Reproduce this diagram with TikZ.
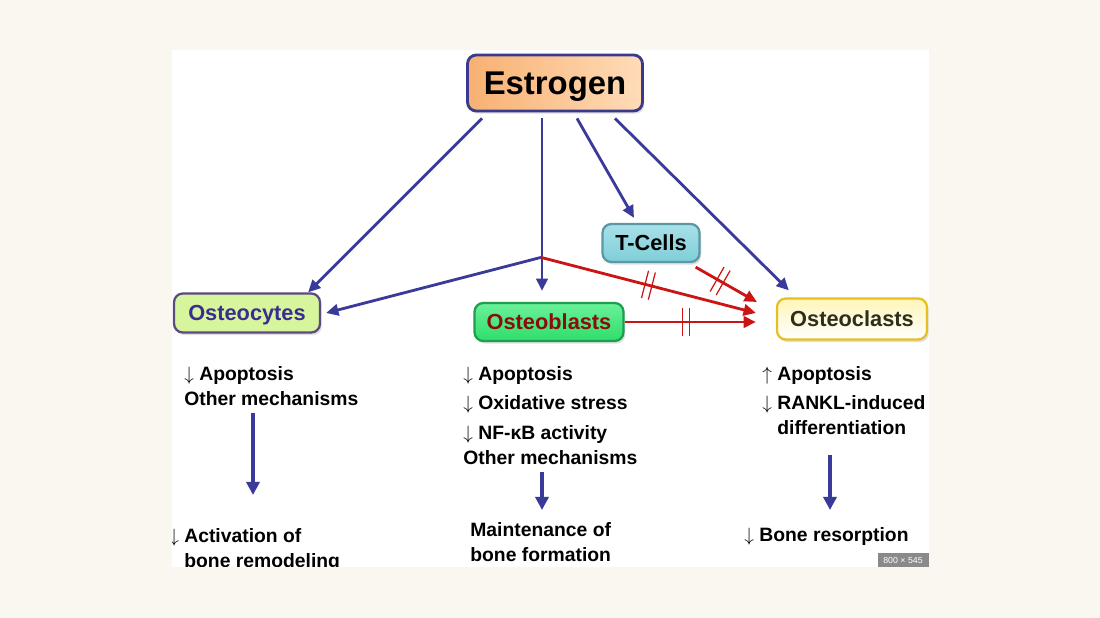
\documentclass[tikz,border=0pt]{standalone}
\usepackage{fontspec}
\setmainfont{Liberation Sans}
\usetikzlibrary{arrows.meta,calc,decorations.markings,shadows}
\definecolor{bgcream}{HTML}{FAF7F0}
\definecolor{arrowblue}{HTML}{3A3A9A}
\definecolor{arrowred}{HTML}{CC1414}
\definecolor{estroL}{HTML}{F8B072}
\definecolor{estroR}{HTML}{FFDCB8}
\definecolor{estroEdge}{HTML}{3A3A8C}
\definecolor{cyteFill}{HTML}{D6F59C}
\definecolor{cyteEdge}{HTML}{5E4A7E}
\definecolor{cyteText}{HTML}{3A2D8F}
\definecolor{blastFill}{HTML}{2EDE6A}
\definecolor{blastTop}{HTML}{6CF09A}
\definecolor{blastEdge}{HTML}{1E9E4E}
\definecolor{blastText}{HTML}{8A0D0D}
\definecolor{tcellFill}{HTML}{7FCED9}
\definecolor{tcellTop}{HTML}{A8E0E8}
\definecolor{tcellEdge}{HTML}{5A98A6}
\definecolor{clastFill}{HTML}{FFF5B8}
\definecolor{clastEdge}{HTML}{E6C022}
\definecolor{clastText}{HTML}{2E2E1E}
\definecolor{badgegray}{HTML}{8A8A8A}
\tikzset{
  cell/.style={draw, rounded corners=5pt, line width=1.3pt, inner sep=0pt, text depth=0pt,
    font=\bfseries\fontsize{12.4}{14}\selectfont,
    drop shadow={opacity=0.25, shadow xshift=1pt, shadow yshift=-1.5pt}},
  effect/.style={align=left, anchor=north west, inner sep=0pt,
    font=\bfseries\fontsize{11}{14.2}\selectfont},
  blueline/.style={draw=arrowblue, line width=1.6pt, -{Triangle[length=7pt,width=6.5pt]}},
  downline/.style={draw=arrowblue, line width=2.2pt, -{Triangle[length=7.5pt,width=7.5pt]}},
  redline/.style={draw=arrowred, line width=1.6pt, -{Triangle[length=7pt,width=6.5pt]}},
  blocked/.style={postaction={decorate, decoration={markings,
    mark=at position #1 with {\draw[-, arrowred, line width=0.7pt]
      (-2pt,-8pt) -- (-2pt,8pt) (2pt,-8pt) -- (2pt,8pt);}}}},
  blocked/.default=0.5
}
\newcommand{\dn}{$\downarrow$\ }
\newcommand{\up}{$\uparrow$\ }
\begin{document}
\begin{tikzpicture}[x=0.02cm, y=-0.02cm]
\fill[bgcream] (0,0) rectangle (1100,618);
\fill[white] (172,50) rectangle (929,567);
\begin{scope}
\clip (172,50) rectangle (929,567);
\node[cell, draw=estroEdge, line width=1.6pt, left color=estroL, right color=estroR, minimum width=3.5cm, minimum height=1.12cm, font=\bfseries\fontsize{18.7}{22}\selectfont] (estrogen) at (555,83) {Estrogen};
\node[cell, draw=cyteEdge, fill=cyteFill, text=cyteText, minimum width=2.92cm, minimum height=0.78cm] (osteocytes) at (247,313) {Osteocytes};
\node[cell, draw=blastEdge, top color=blastTop, bottom color=blastFill, text=blastText, minimum width=2.98cm, minimum height=0.76cm] (osteoblasts) at (549,322) {Osteoblasts};
\node[cell, draw=tcellEdge, top color=tcellTop, bottom color=tcellFill, minimum width=1.94cm, minimum height=0.76cm] (tcells) at (651,243) {T-Cells};
\node[cell, draw=clastEdge, top color=clastFill, bottom color=white, text=clastText, minimum width=3.0cm, minimum height=0.82cm] (osteoclasts) at (852,319) {Osteoclasts};
\coordinate (hub) at ($(estrogen.south)+(-14,145)$);
\coordinate (gate) at ($(osteoclasts.west)+(-20,0)$);
\draw[blueline] ($(estrogen.south)+(-73,6)$) -- ($(osteocytes.north east)+(-13,0)$);
\draw[blueline] ($(estrogen.south)+(-13,6)$) -- ($(osteoblasts.north)+(-7,-11)$);
\draw[blueline] ($(estrogen.south)+(22,6)$) -- ($(tcells.north)+(-17,-5)$);
\draw[blueline] ($(estrogen.south)+(60,6)$) -- ($(osteoclasts.north west)+(13,-7)$);
\draw[blueline] (hub) -- ($(osteocytes.east)+(5,0)$);
\draw[redline, blocked=0.5] (hub) -- ($(osteoclasts.west)+(-20,-6)$);
\draw[redline, blocked=0.4] ($(tcells.south east)+(-5,4)$) -- ($(osteoclasts.west)+(-19,-17)$);
\draw[redline, blocked=0.47] (osteoblasts.east) -- (gate |- osteoblasts.east);
\node[effect] (cytefx) at (184,366) {\dn Apoptosis\\Other mechanisms};
\node[effect] (cyteout) at (169,528) {\dn Activation of\\\phantom{\dn}bone remodeling};
\node[effect] (blastfx) at (463,366) {\dn Apoptosis\\[2.6pt]\dn Oxidative stress\\[2.6pt]\dn NF-κB activity\\Other mechanisms};
\node[effect] (blastout) at (470,522) {Maintenance of\\bone formation};
\node[effect] (clastfx) at (762,366) {\up Apoptosis\\[2.6pt]\dn RANKL-induced\\\phantom{\dn}differentiation};
\node[effect] (clastout) at (744,527) {\dn Bone resorption};
\draw[downline] ($(cytefx.south west)+(69,7)$) -- ($(cyteout.north west)+(84,-33)$);
\draw[downline] ($(blastfx.south west)+(79,7)$) -- ($(blastout.north west)+(72,-12)$);
\draw[downline] ($(clastfx.south west)+(68,16)$) -- ($(clastout.north west)+(86,-17)$);
\node[fill=badgegray, text=white, inner sep=0pt, minimum width=1.02cm, minimum height=0.3cm, font=\fontsize{5}{6}\selectfont] (badge) at (903,560) {800 × 545};
\end{scope}
\end{tikzpicture}
\end{document}
